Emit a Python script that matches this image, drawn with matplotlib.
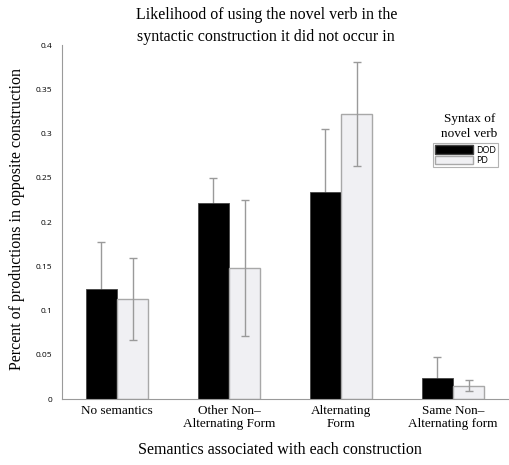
import matplotlib
matplotlib.use("Agg")
import matplotlib.pyplot as plt
import numpy as np
from matplotlib.patches import Patch

categories = ["No semantics", "Other Non\u2013\nAlternating Form", "Alternating\nForm", "Same Non\u2013\nAlternating form"]
dod_values = [0.124, 0.222, 0.234, 0.024]
dod_err = [0.054, 0.028, 0.071, 0.023]
pd_values = [0.113, 0.148, 0.322, 0.015]
pd_err = [0.046, 0.077, 0.059, 0.006]
yticks = [0, 0.05, 0.1, 0.15, 0.2, 0.25, 0.3, 0.35, 0.4]
ytick_labels = ["0", "0.05", "0.1", "0.15", "0.2", "0.25", "0.3", "0.35", "0.4"]

serif = "Liberation Serif"
sans = "Open Sans"

fig = plt.figure(figsize=(5.09, 4.65), dpi=100)
ax = fig.add_axes([0.1218, 0.1419, 0.8782, 0.761])

x = np.arange(len(categories))
w = 0.28
err_kw = dict(fmt="none", ecolor="#9a9a9a", elinewidth=1.0, capsize=3, capthick=1.0)
ax.errorbar(x - w/2, dod_values, yerr=dod_err, zorder=1, **err_kw)
ax.bar(x - w/2, dod_values, w, color="black", edgecolor="#444444",
       linewidth=0.6, label="DOD", zorder=2)
ax.bar(x + w/2, pd_values, w, color="#f0f0f3", edgecolor="#a8a8a8",
       linewidth=1.0, label="PD", zorder=2)
ax.errorbar(x + w/2, pd_values, yerr=pd_err, zorder=3, **err_kw)

ax.set_xlim(-0.49, 3.5)
ax.set_ylim(0, 0.4)
ax.set_yticks(yticks)
ax.set_yticklabels(ytick_labels, fontfamily=sans, fontsize=6)
ax.tick_params(axis="y", length=0, pad=7)
ax.set_xticks(x)
ax.set_xticklabels(categories, fontfamily=serif, fontsize=9.5, linespacing=1.2)
ax.tick_params(axis="x", length=0, pad=4)

for s in ["top", "right"]:
    ax.spines[s].set_visible(False)
ax.spines["left"].set_color("#9a9a9a")
ax.spines["bottom"].set_color("#9a9a9a")
ax.spines["left"].set_linewidth(0.8)
ax.spines["bottom"].set_linewidth(0.8)

fig.text(0.523, 0.944, "Likelihood of using the novel verb in the\nsyntactic construction it did not occur in",
         ha="center", va="center", fontfamily=serif, fontsize=11.5, linespacing=1.55)
fig.text(0.55, 0.032, "Semantics associated with each construction", ha="center", va="center",
         fontfamily=serif, fontsize=11.5)
fig.text(0.033, 0.53, "Percent of productions in opposite construction", ha="center", va="center",
         rotation=90, fontfamily=serif, fontsize=11.5)
fig.text(0.922, 0.728, "Syntax of\nnovel verb", ha="center", va="center",
         fontfamily=serif, fontsize=9.5, linespacing=1.35)

handles = [Patch(facecolor="black", edgecolor="#444444", label="DOD"),
           Patch(facecolor="#f0f0f3", edgecolor="#a8a8a8", label="PD")]
leg = fig.legend(handles=handles, loc="upper left", bbox_to_anchor=(0.851, 0.692),
                 frameon=True, fancybox=False, prop={"family": sans, "size": 6.5},
                 handlelength=4.2, handleheight=1.0, handletextpad=0.3,
                 borderpad=0.25, labelspacing=0.15, borderaxespad=0)
leg.get_frame().set_edgecolor("#a0a0a0")
leg.get_frame().set_linewidth(0.8)

fig.savefig("out.png", dpi=100)
